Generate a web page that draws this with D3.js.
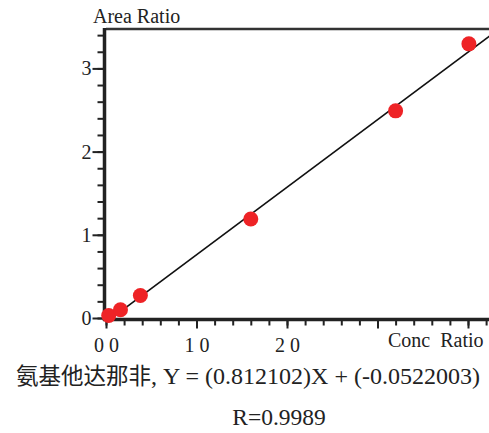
<!DOCTYPE html>
<html>
<head>
<meta charset="utf-8">
<script src="https://cdn.jsdelivr.net/npm/d3@7"></script>
<style>
  html, body { margin: 0; padding: 0; background: #fff; }
  text { font-family: "Liberation Serif", serif; fill: #222; }
</style>
</head>
<body>
<div id="chart"></div>
<script>
// calibration points (conc ratio, area ratio)
var concRatio = [0.03, 0.16, 0.38, 1.60, 3.20, 4.01];
var areaRatio = [0.03, 0.10, 0.27, 1.19, 2.49, 3.295];

// fitted line
var slope = 0.812102;
var intercept = -0.0522003;
var rValue = "0.9989";

var xMajor = [0, 1, 2, 3, 4];
var xMajorLabels = ["0 0", "1 0", "2 0", "", ""];
var yMajor = [0, 1, 2, 3];
var yMajorLabels = ["0", "1", "2", "3"];
var xMinor = d3.range(0, 4.21, 0.2);
var yMinor = d3.range(0, 3.41, 0.2);

var compound = "氨基他达那非";

const width = 489, height = 433;
const plot = {left: 106, top: 29, bottom: 318};

var svg = d3.select("#chart")
    .append("svg")
    .attr("width", width)
    .attr("height", height);

var x = d3.scaleLinear()
    .domain([0, 4.24])
    .range([plot.left, plot.left + 90.5 * 4.24]);

var y = d3.scaleLinear()
    .domain([0, 3.47])
    .range([plot.bottom, plot.bottom - 83.2 * 3.47]);

svg.append("clipPath").attr("id", "plotclip")
    .append("rect")
    .attr("x", plot.left).attr("y", plot.top)
    .attr("width", width - plot.left).attr("height", plot.bottom - plot.top);

// top border
svg.append("line")
    .attr("x1", plot.left).attr("x2", width)
    .attr("y1", plot.top).attr("y2", plot.top)
    .attr("stroke", "#333").attr("stroke-width", 2.5);

// minor ticks
svg.append("g")
    .attr("transform", "translate(0," + (plot.bottom + 1.5) + ")")
    .call(d3.axisBottom(x).tickValues(xMinor).tickSize(6).tickFormat(""))
    .call(g => g.select(".domain").remove())
    .selectAll("line").attr("stroke", "#222").attr("stroke-width", 2);

svg.append("g")
    .attr("transform", "translate(" + (plot.left - 1.5) + ",0)")
    .call(d3.axisLeft(y).tickValues(yMinor).tickSize(7).tickFormat(""))
    .call(g => g.select(".domain").remove())
    .selectAll("line").attr("stroke", "#222").attr("stroke-width", 2);

// major ticks + labels
var xAxis = svg.append("g")
    .attr("transform", "translate(0," + (plot.bottom + 1.5) + ")")
    .call(d3.axisBottom(x).tickValues(xMajor).tickSize(9).tickPadding(9)
        .tickFormat((d, i) => xMajorLabels[i]));
xAxis.select(".domain").remove();
xAxis.selectAll("line").attr("stroke", "#222").attr("stroke-width", 2);
xAxis.selectAll("text")
    .style("font-family", "'Liberation Serif', serif")
    .style("font-size", "20px").attr("fill", "#222")
    .attr("xml:space", "preserve").style("white-space", "pre");

var yAxis = svg.append("g")
    .attr("transform", "translate(" + (plot.left - 1.5) + ",0)")
    .call(d3.axisLeft(y).tickValues(yMajor).tickSize(12).tickPadding(1)
        .tickFormat((d, i) => yMajorLabels[i]));
yAxis.select(".domain").remove();
yAxis.selectAll("line").attr("stroke", "#222").attr("stroke-width", 2);
yAxis.selectAll("text")
    .style("font-family", "'Liberation Serif', serif")
    .style("font-size", "20px").attr("fill", "#222");

// axis lines
svg.append("line")
    .attr("x1", plot.left - 1.5).attr("x2", plot.left - 1.5)
    .attr("y1", plot.top - 1).attr("y2", plot.bottom + 3)
    .attr("stroke", "#222").attr("stroke-width", 3.5);
svg.append("line")
    .attr("x1", plot.left - 3).attr("x2", width)
    .attr("y1", plot.bottom + 1.5).attr("y2", plot.bottom + 1.5)
    .attr("stroke", "#222").attr("stroke-width", 3.5);

// regression line
var fitX = x.domain();
svg.append("path")
    .datum(fitX)
    .attr("clip-path", "url(#plotclip)")
    .attr("d", d3.line().x(d => x(d)).y(d => y(slope * d + intercept)))
    .attr("fill", "none")
    .attr("stroke", "#111")
    .attr("stroke-width", 1.6);

// points
svg.selectAll("circle.pt")
    .data(concRatio)
    .enter()
    .append("circle")
    .attr("class", "pt")
    .attr("cx", d => x(d))
    .attr("cy", (d, i) => y(areaRatio[i]))
    .attr("r", 7.5)
    .attr("fill", "#ee2326");

// axis titles
svg.append("text")
    .attr("x", 93).attr("y", 23)
    .style("font-size", "20px")
    .text("Area Ratio");

svg.append("text")
    .attr("x", 388).attr("y", 347)
    .style("font-size", "20px")
    .attr("xml:space", "preserve").style("white-space", "pre")
    .text("Conc  Ratio");

// equation
var eq = svg.append("text")
    .attr("x", 248).attr("y", 384)
    .attr("text-anchor", "middle")
    .style("font-size", "24px");
eq.append("tspan")
    .style("font-family", "'Noto Sans CJK SC', sans-serif")
    .style("font-size", "22.5px")
    .text(compound);
eq.append("tspan")
    .text(", Y = (" + slope + ")X + (" + intercept + ")");

svg.append("text")
    .attr("x", 279).attr("y", 425)
    .attr("text-anchor", "middle")
    .style("font-size", "23.5px")
    .text("R=" + rValue);
</script>
</body>
</html>
